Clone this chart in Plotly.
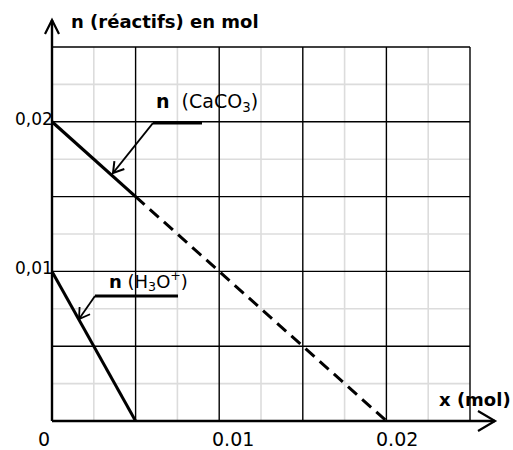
import math
import plotly.graph_objects as go

# ---------------- data ----------------
caco3_x_solid = [0.0, 0.005]
caco3_y_solid = [0.02, 0.015]
caco3_x_dash = [0.005, 0.02]
caco3_y_dash = [0.015, 0.0]
h3o_x = [0.0, 0.005]
h3o_y = [0.01, 0.0]

grid_major = [0.005, 0.01, 0.015, 0.02, 0.025]
grid_minor = [0.0025, 0.0075, 0.0125, 0.0175, 0.0225]
grid_max = 0.025

x_tick_vals = [0.0, 0.01, 0.02]
x_tick_text = ["0", "0.01", "0.02"]
y_tick_vals = [0.01, 0.02]
y_tick_text = ["0,01", "0,02"]

# ---------------- geometry helpers (layout only) ----------------
W, H = 513, 450
X0PX, Y0PX = 52, 421            # pixel position of origin
SX, SY = 16720.0, 14960.0       # pixels per unit


def p2x(px):
    return (px - X0PX) / SX


def p2y(py):
    return (Y0PX - py) / SY


FONT = "DejaVu Sans"

fig = go.Figure()

fig.add_trace(go.Scatter(x=caco3_x_solid, y=caco3_y_solid, mode="lines",
                         line=dict(color="black", width=3.2), hoverinfo="skip"))
fig.add_trace(go.Scatter(x=caco3_x_dash, y=caco3_y_dash, mode="lines",
                         line=dict(color="black", width=3, dash="12px,7px"), hoverinfo="skip"))
fig.add_trace(go.Scatter(x=h3o_x, y=h3o_y, mode="lines",
                         line=dict(color="black", width=3), hoverinfo="skip"))

shapes = []
# minor grid
for v in grid_minor:
    shapes.append(dict(type="line", xref="x", yref="y", x0=v, x1=v, y0=0, y1=grid_max,
                       line=dict(color="#dcdcdc", width=1.6), layer="below"))
    shapes.append(dict(type="line", xref="x", yref="y", x0=0, x1=grid_max, y0=v, y1=v,
                       line=dict(color="#dcdcdc", width=1.6), layer="below"))
# major grid
for v in grid_major:
    shapes.append(dict(type="line", xref="x", yref="y", x0=v, x1=v, y0=0, y1=grid_max,
                       line=dict(color="black", width=1.4), layer="below"))
    shapes.append(dict(type="line", xref="x", yref="y", x0=0, x1=grid_max, y0=v, y1=v,
                       line=dict(color="black", width=1.4), layer="below"))

# axes with arrows (pixel sized, anchored at origin)
shapes.append(dict(type="line", xref="x", yref="y", xsizemode="pixel", xanchor=0,
                   x0=0, x1=443, y0=0, y1=0, line=dict(color="black", width=2.4)))
shapes.append(dict(type="line", xref="x", yref="y", ysizemode="pixel", yanchor=0,
                   x0=0, x1=0, y0=0, y1=401, line=dict(color="black", width=2.4)))
shapes.append(dict(type="path", xref="x", yref="y", xsizemode="pixel", ysizemode="pixel",
                   xanchor=0, yanchor=0, path="M 426,10 L 443,0 L 426,-10",
                   line=dict(color="black", width=2.2)))
shapes.append(dict(type="path", xref="x", yref="y", xsizemode="pixel", ysizemode="pixel",
                   xanchor=0, yanchor=0, path="M -7,387 L 0,401 L 7,387",
                   line=dict(color="black", width=2.2)))


def leader(tail, tip, hline_end, width):
    """label leader: horizontal rule + oblique arrow with open head (pixels)."""
    tx, ty = tail
    hx, hy = tip
    shapes.append(dict(type="line", xref="x", yref="y", x0=p2x(tx), x1=p2x(hline_end),
                       y0=p2y(ty), y1=p2y(ty), line=dict(color="black", width=width + 1)))
    shapes.append(dict(type="line", xref="x", yref="y", x0=p2x(tx), x1=p2x(hx),
                       y0=p2y(ty), y1=p2y(hy), line=dict(color="black", width=width)))
    dx, dy = hx - tx, hy - ty
    n = math.hypot(dx, dy)
    ux, uy = dx / n, dy / n
    L, a = 12, math.radians(32)
    pts = []
    for s in (1, -1):
        c, si = math.cos(s * a), math.sin(s * a)
        rx = -(ux * c - uy * si)
        ry = -(ux * si + uy * c)
        pts.append((L * rx, -L * ry))
    path = "M %.2f,%.2f L 0,0 L %.2f,%.2f" % (pts[0][0], pts[0][1], pts[1][0], pts[1][1])
    shapes.append(dict(type="path", xref="x", yref="y", xsizemode="pixel", ysizemode="pixel",
                       xanchor=p2x(hx), yanchor=p2y(hy), path=path,
                       line=dict(color="black", width=width)))


leader((153, 123), (113, 173), 202, 2)
leader((95, 296), (79, 319), 178, 1.8)

annotations = []
# tick labels
x_shifts = [-8, 14, 11]
for v, t, s in zip(x_tick_vals, x_tick_text, x_shifts):
    annotations.append(dict(x=v, y=0, xref="x", yref="y", text=t, showarrow=False,
                            xanchor="center", yanchor="middle", xshift=s, yshift=-18,
                            font=dict(family=FONT, size=19, color="black")))
for v, t in zip(y_tick_vals, y_tick_text):
    annotations.append(dict(x=0, y=v, xref="x", yref="y", text=t, showarrow=False,
                            xanchor="right", yanchor="middle", xshift=3, yshift=3,
                            font=dict(family=FONT, size=17, color="black")))

# titles and series labels
annotations.append(dict(x=69 / W, y=1 - 22 / H, xref="paper", yref="paper",
                        text="<b>n (réactifs) en mol</b>", showarrow=False,
                        xanchor="left", yanchor="middle",
                        font=dict(family=FONT, size=18, color="black")))
annotations.append(dict(x=437 / W, y=1 - 399 / H, xref="paper", yref="paper",
                        text="<b>x (mol)</b>", showarrow=False,
                        xanchor="left", yanchor="middle",
                        font=dict(family=FONT, size=18, color="black")))
annotations.append(dict(x=154 / W, y=1 - 102 / H, xref="paper", yref="paper",
                        text="<b>n</b>  (CaCO<sub>3</sub>)", showarrow=False,
                        xanchor="left", yanchor="middle",
                        font=dict(family=FONT, size=19, color="black")))
annotations.append(dict(x=107 / W, y=1 - 281 / H, xref="paper", yref="paper",
                        text="<b>n</b> (H<sub>3</sub>O<sup>+</sup>)", showarrow=False,
                        xanchor="left", yanchor="middle",
                        font=dict(family=FONT, size=18, color="black")))

axis_style = dict(visible=False, showgrid=False, zeroline=False, showticklabels=False,
                  fixedrange=True)
fig.update_layout(
    width=W, height=H,
    margin=dict(l=0, r=0, t=0, b=0),
    paper_bgcolor="white", plot_bgcolor="white",
    showlegend=False,
    shapes=shapes, annotations=annotations,
    xaxis=dict(range=[p2x(0), p2x(W)], **axis_style),
    yaxis=dict(range=[p2y(H), p2y(0)], **axis_style),
)

fig.write_html("out.html", config={"displayModeBar": False},
               post_script="document.body.style.margin='0';document.body.style.overflow='hidden';")
